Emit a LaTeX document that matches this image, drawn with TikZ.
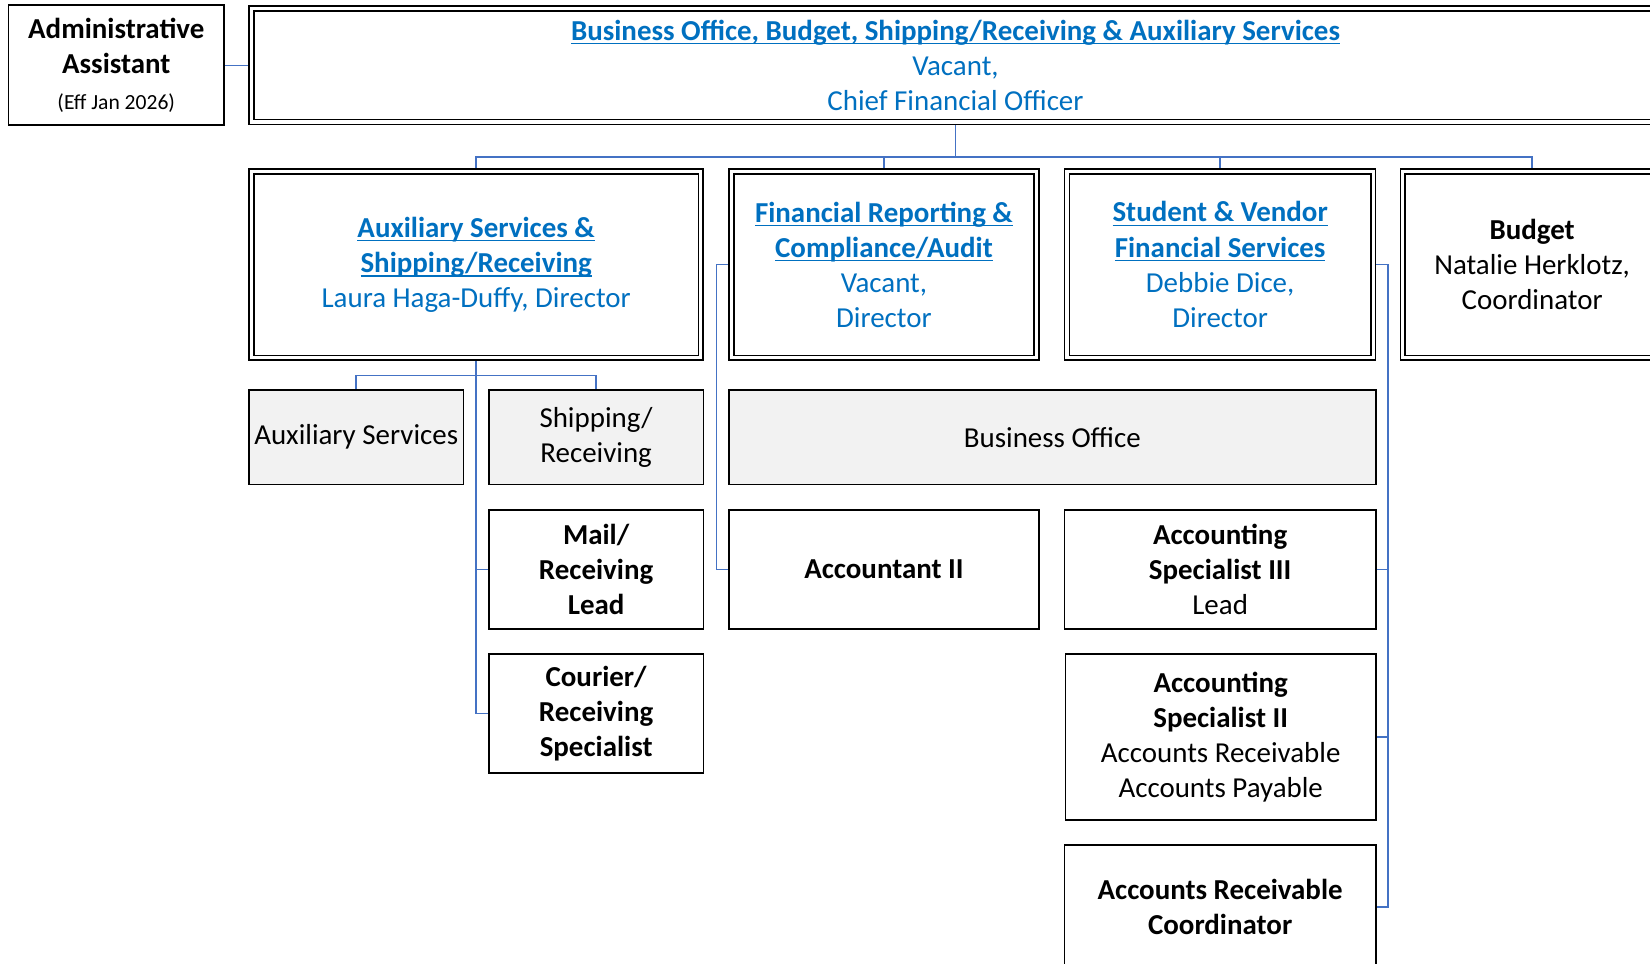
\documentclass[tikz,border=0pt]{standalone}
\usepackage{fontspec}
\setmainfont{Carlito}
\usetikzlibrary{backgrounds}
\definecolor{tblue}{HTML}{0070C0}
\definecolor{cblue}{HTML}{4472C4}
\definecolor{lgray}{HTML}{F2F2F2}
\newcommand\uln[1]{\setbox0\hbox{#1}\rlap{\rule[-4pt]{\wd0}{1.6pt}}\box0}
\begin{document}
\begin{tikzpicture}[x=1pt,y=-1pt,
  every node/.style={font=\fontsize{27.5}{33.4}\selectfont, align=center, inner sep=0pt},
  sbox/.style={draw=black, line width=1.6pt, fill=white, rectangle},
  dbox/.style={draw=black, line width=1.5pt, double=white, double distance=3pt, fill=white, rectangle},
  gbox/.style={sbox, fill=lgray},
  conn/.style={draw=cblue, line width=1.4pt},
  tb/.style={text=tblue}]
\useasboundingbox (0,0) rectangle (1568,916);
\begin{scope}
\clip (0,0) rectangle (1568,916);
\node[sbox, minimum width=205pt, minimum height=114pt] (admin) at (110.5,62)
  {{\bfseries Administrative}\\{\bfseries Assistant}\\[1pt]{\fontsize{20.5}{24}\selectfont (Eff Jan 2026)}};
\node[dbox, tb, minimum width=1338pt, minimum height=108pt] (top) at (908,62)
  {{\bfseries\uln{Business Office, Budget, Shipping/Receiving \& Auxiliary Services}}\\Vacant,\\Chief Financial Officer};
\node[dbox, tb, minimum width=427pt, minimum height=177pt] (aux) at (452.5,251.5)
  {{\bfseries\uln{Auxiliary Services \&}}\\{\bfseries\uln{Shipping/Receiving}}\\Laura Haga-Duffy, Director};
\node[dbox, tb, minimum width=290pt, minimum height=177pt] (finrep) at (840,251.5)
  {{\bfseries\uln{Financial Reporting \&}}\\{\bfseries\uln{Compliance/Audit}}\\Vacant,\\Director};
\node[dbox, tb, minimum width=291pt, minimum height=177pt] (student) at (1159.5,251.5)
  {{\bfseries\uln{Student \& Vendor}}\\{\bfseries\uln{Financial Services}}\\Debbie Dice,\\Director};
\node[dbox, minimum width=246pt, minimum height=177pt] (budget) at (1456,251.5)
  {{\bfseries Budget}\\Natalie Herklotz,\\Coordinator};
\node[gbox, minimum width=204pt, minimum height=90pt] (auxserv) at (338.5,415.5) {Auxiliary Services};
\node[gbox, minimum width=204pt, minimum height=90pt] (shiprec) at (566.5,415.5) {Shipping/\\Receiving};
\node[gbox, minimum width=615pt, minimum height=90pt] (bizoff) at (1000,415.5) {Business Office};
\node[sbox, minimum width=204pt, minimum height=113pt] (mail) at (566.5,541)
  {{\bfseries Mail/}\\{\bfseries Receiving}\\{\bfseries Lead}};
\node[sbox, minimum width=204pt, minimum height=113pt] (courier) at (566.5,678)
  {{\bfseries Courier/}\\{\bfseries Receiving}\\{\bfseries Specialist}};
\node[sbox, minimum width=295pt, minimum height=113pt] (acct) at (840,541) {\bfseries Accountant II};
\node[sbox, minimum width=296pt, minimum height=113pt] (as3) at (1159.5,541)
  {{\bfseries Accounting}\\{\bfseries Specialist III}\\Lead};
\node[sbox, minimum width=295pt, minimum height=158pt] (as2) at (1160,700.5)
  {{\bfseries Accounting}\\{\bfseries Specialist II}\\Accounts Receivable\\Accounts Payable};
\node[sbox, minimum width=296pt, minimum height=118pt] (arc) at (1159.5,862)
  {{\bfseries Accounts Receivable}\\{\bfseries Coordinator}};
\end{scope}
\begin{scope}[on background layer]
\draw[conn] (admin.east) -- (top.west |- admin.east);
\draw[conn] (top.south) -- (top.south |- 0,149);
\draw[conn] (aux.north) -- (aux.north |- 0,149) -- (budget.north |- 0,149) -- (budget.north);
\draw[conn] (finrep.north) -- (finrep.north |- 0,149);
\draw[conn] (student.north) -- (student.north |- 0,149);
\draw[conn] (aux.south) -- (aux.south |- courier.west) -- (courier.west);
\draw[conn] (mail.west) -- (mail.west -| aux.south);
\draw[conn] (auxserv.north) -- (auxserv.north |- 0,357) -- (shiprec.north |- 0,357) -- (shiprec.north);
\draw[conn] (finrep.west) -- (finrep.west -| 681,0) -- (acct.west -| 681,0) -- (acct.west);
\draw[conn] (student.east) -- (student.east -| 1319,0) -- (arc.east -| 1319,0) -- (arc.east);
\draw[conn] (as3.east) -- (as3.east -| 1319,0);
\draw[conn] (as2.east) -- (as2.east -| 1319,0);
\end{scope}
\end{tikzpicture}
\end{document}
